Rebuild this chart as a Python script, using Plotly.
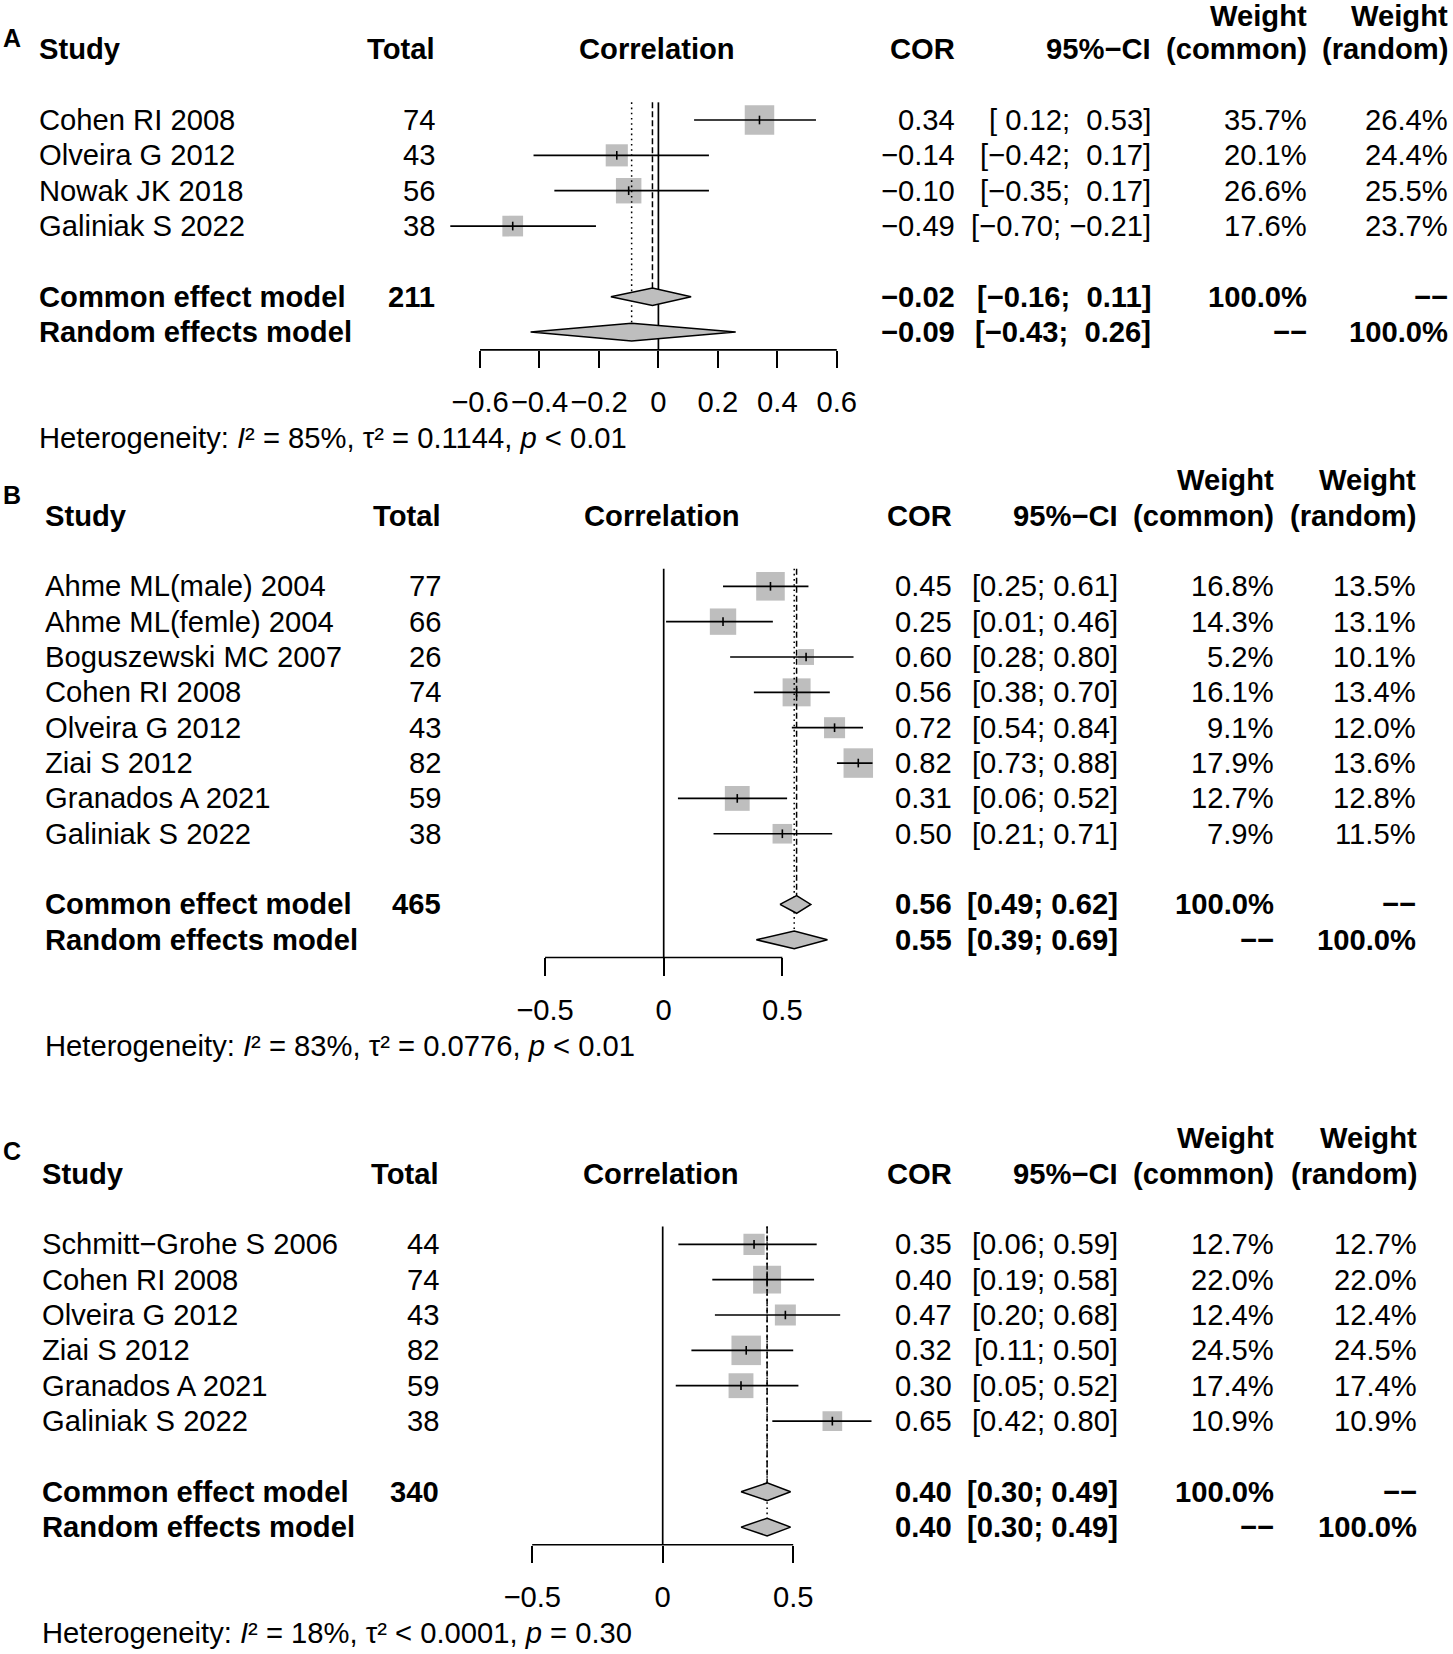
import math
import plotly.graph_objects as go

MINUS = "\u2212"
NB = "\u00a0"

# ---------------- data ----------------
# Panel A
studies_A = ["Cohen RI 2008", "Olveira G 2012", "Nowak JK 2018", "Galiniak S 2022"]
total_A = [74, 43, 56, 38]
cor_A = [0.34, -0.14, -0.10, -0.49]
lower_A = [0.12, -0.42, -0.35, -0.70]
upper_A = [0.53, 0.17, 0.17, -0.21]
wcommon_A = [35.7, 20.1, 26.6, 17.6]
wrandom_A = [26.4, 24.4, 25.5, 23.7]
pooled_n_A = 211
common_A = [-0.02, -0.16, 0.11]
random_A = [-0.09, -0.43, 0.26]
het_A = ["= 85%", "= 0.1144", "&lt; 0.01"]
ticks_A = [-0.6, -0.4, -0.2, 0, 0.2, 0.4, 0.6]

# Panel B
studies_B = ["Ahme ML(male) 2004", "Ahme ML(femle) 2004", "Boguszewski MC 2007",
             "Cohen RI 2008", "Olveira G 2012", "Ziai S 2012", "Granados A 2021",
             "Galiniak S 2022"]
total_B = [77, 66, 26, 74, 43, 82, 59, 38]
cor_B = [0.45, 0.25, 0.60, 0.56, 0.72, 0.82, 0.31, 0.50]
lower_B = [0.25, 0.01, 0.28, 0.38, 0.54, 0.73, 0.06, 0.21]
upper_B = [0.61, 0.46, 0.80, 0.70, 0.84, 0.88, 0.52, 0.71]
wcommon_B = [16.8, 14.3, 5.2, 16.1, 9.1, 17.9, 12.7, 7.9]
wrandom_B = [13.5, 13.1, 10.1, 13.4, 12.0, 13.6, 12.8, 11.5]
pooled_n_B = 465
common_B = [0.56, 0.49, 0.62]
random_B = [0.55, 0.39, 0.69]
het_B = ["= 83%", "= 0.0776", "&lt; 0.01"]
ticks_B = [-0.5, 0, 0.5]

# Panel C
studies_C = ["Schmitt\u2212Grohe S 2006", "Cohen RI 2008", "Olveira G 2012",
             "Ziai S 2012", "Granados A 2021", "Galiniak S 2022"]
total_C = [44, 74, 43, 82, 59, 38]
cor_C = [0.35, 0.40, 0.47, 0.32, 0.30, 0.65]
lower_C = [0.06, 0.19, 0.20, 0.11, 0.05, 0.42]
upper_C = [0.59, 0.58, 0.68, 0.50, 0.52, 0.80]
wcommon_C = [12.7, 22.0, 12.4, 24.5, 17.4, 10.9]
wrandom_C = [12.7, 22.0, 12.4, 24.5, 17.4, 10.9]
pooled_n_C = 340
common_C = [0.40, 0.30, 0.49]
random_C = [0.40, 0.30, 0.49]
het_C = ["= 18%", "&lt; 0.0001", "= 0.30"]
ticks_C = [-0.5, 0, 0.5]

# ---------------- layout / style ----------------
W, H = 1453, 1654
FONT = "Liberation Sans, Arial, Helvetica, sans-serif"
FS = 29.2
PITCH = 35.35
GRAY = "#BEBEBE"
MAXBOX = 29.5
PAD_L = -2.0   # compensation for annotation inner padding (left-anchored)
PAD_R = 3.0    # compensation for annotation inner padding (right-anchored)

panels = [
    dict(label="A", studies=studies_A, total=total_A, cor=cor_A, lo=lower_A, hi=upper_A,
         wc=wcommon_A, wr=wrandom_A, n=pooled_n_A, common=common_A, random=random_A,
         het=het_A, ticks=ticks_A,
         y1=120.0, zero_px=658.4, ppu=297.3, xr=(-0.8, 0.8), top_nudge=2.0,
         lab_xy=(1, 38), study_x=39, total_x=434, corr_x=657, cor_x=954, ci_x=1150,
         wc_x=1306, wr_x=1447),
    dict(label="B", studies=studies_B, total=total_B, cor=cor_B, lo=lower_B, hi=upper_B,
         wc=wcommon_B, wr=wrandom_B, n=pooled_n_B, common=common_B, random=random_B,
         het=het_B, ticks=ticks_B,
         y1=586.3, zero_px=663.7, ppu=237.3, xr=(-0.8, 1.0), top_nudge=0.0,
         lab_xy=(1, 495), study_x=45, total_x=439.5, corr_x=662, cor_x=950.6, ci_x=1117,
         wc_x=1272.5, wr_x=1414.5),
    dict(label="C", studies=studies_C, total=total_C, cor=cor_C, lo=lower_C, hi=upper_C,
         wc=wcommon_C, wr=wrandom_C, n=pooled_n_C, common=common_C, random=random_C,
         het=het_C, ticks=ticks_C,
         y1=1244.3, zero_px=662.7, ppu=261.0, xr=(-0.8, 1.0), top_nudge=0.0,
         lab_xy=(1, 1151), study_x=41.7, total_x=438, corr_x=661, cor_x=950.6, ci_x=1117,
         wc_x=1273.3, wr_x=1416),
]


def num(v, pad=False):
    s = f"{abs(v):.2f}"
    if v < 0:
        return MINUS + s
    return (NB + s) if pad else s


def tick_label(v):
    if v == 0:
        return "0"
    s = f"{abs(v):.1f}"
    return (MINUS + s) if v < 0 else s


def ital(t):
    return f"<span style='font-style:italic;font-size:{FS}px'>{t}</span>"


fig = go.Figure()
annotations = []
layout_axes = {}


def ann(x_px, y, yref, text, xanchor, size=FS, bold=False):
    if bold:
        text = "<b>" + text + "</b>"
    if xanchor == "left":
        x_px += PAD_L
    elif xanchor == "right":
        x_px += PAD_R
    annotations.append(dict(x=x_px / W, xref="paper", y=y, yref=yref, text=text,
                            xanchor=xanchor, yanchor="middle", showarrow=False,
                            font=dict(family=FONT, size=size, color="black")))


for i, P in enumerate(panels):
    idx = "" if i == 0 else str(i + 1)
    xa, ya = "x" + idx, "y" + idx
    k = len(P["studies"])
    rows = list(range(1, k + 1))
    r_common, r_random = k + 2, k + 3
    r_axis = k + 3.5

    # y axis (row units, reversed)
    y1, p = P["y1"], PITCH
    r_top = max(-2.5, 1 - y1 / p)
    r_bot = k + 6.5
    px_top = y1 + (r_top - 1) * p
    px_bot = min(H, y1 + (r_bot - 1) * p)
    r_bot = 1 + (px_bot - y1) / p
    layout_axes["yaxis" + idx] = dict(domain=[1 - px_bot / H, 1 - px_top / H],
                                      range=[r_bot, r_top], visible=False,
                                      fixedrange=True)
    # x axis
    x0 = P["zero_px"] + P["xr"][0] * P["ppu"]
    x1 = P["zero_px"] + P["xr"][1] * P["ppu"]
    axis_px = y1 + (r_axis - 1) * p
    layout_axes["xaxis" + idx] = dict(
        domain=[x0 / W, x1 / W], range=list(P["xr"]), anchor="free",
        position=1 - axis_px / H, showline=False, showgrid=False, zeroline=False,
        ticks="outside", ticklen=17.5, tickwidth=1.7, tickcolor="black",
        tickvals=P["ticks"], ticktext=[tick_label(v) for v in P["ticks"]],
        tickangle=0, tickfont=dict(family=FONT, size=FS, color="black"),
        ticklabelstandoff=9, fixedrange=True)

    wmax = max(P["wc"])
    sizes = [MAXBOX * math.sqrt(w / wmax) for w in P["wc"]]
    # squares
    fig.add_trace(go.Scatter(x=P["cor"], y=rows, xaxis=xa, yaxis=ya, mode="markers",
                             marker=dict(symbol="square", size=sizes, color=GRAY,
                                         opacity=1, line=dict(width=0)),
                             hoverinfo="skip", showlegend=False))
    # zero line
    fig.add_trace(go.Scatter(x=[0, 0], y=[0.5, r_axis], xaxis=xa, yaxis=ya, mode="lines",
                             line=dict(color="black", width=1.7), hoverinfo="skip",
                             showlegend=False))
    # common / random reference lines
    fig.add_trace(go.Scatter(x=[P["common"][0]] * 2, y=[0.5, r_common - 0.25], xaxis=xa,
                             yaxis=ya, mode="lines",
                             line=dict(color="black", width=1.5, dash="6px,3px"),
                             hoverinfo="skip", showlegend=False))
    fig.add_trace(go.Scatter(x=[P["random"][0]] * 2, y=[0.5, r_random - 0.25], xaxis=xa,
                             yaxis=ya, mode="lines",
                             line=dict(color="black", width=1.5, dash="1.6px,3.6px"),
                             hoverinfo="skip", showlegend=False))
    # CI lines
    cx, cy = [], []
    for r, l, h in zip(rows, P["lo"], P["hi"]):
        cx += [l, h, None]
        cy += [r, r, None]
    fig.add_trace(go.Scatter(x=cx, y=cy, xaxis=xa, yaxis=ya, mode="lines",
                             line=dict(color="black", width=1.7), hoverinfo="skip",
                             showlegend=False))
    # point ticks
    fig.add_trace(go.Scatter(x=P["cor"], y=rows, xaxis=xa, yaxis=ya, mode="markers",
                             marker=dict(symbol="line-ns", size=6.2,
                                         line=dict(color="black", width=1.6)),
                             hoverinfo="skip", showlegend=False))
    # diamonds
    for est, r in ((P["common"], r_common), (P["random"], r_random)):
        e, l, h = est
        fig.add_trace(go.Scatter(x=[l, e, h, e, l], y=[r, r - 0.25, r, r + 0.25, r],
                                 xaxis=xa, yaxis=ya, mode="lines", fill="toself",
                                 fillcolor=GRAY, line=dict(color="black", width=1.5),
                                 hoverinfo="skip", showlegend=False))
    # x axis line
    fig.add_trace(go.Scatter(x=[P["ticks"][0], P["ticks"][-1]], y=[r_axis, r_axis],
                             xaxis=xa, yaxis=ya, mode="lines",
                             line=dict(color="black", width=1.7), hoverinfo="skip",
                             showlegend=False))

    # ---- text columns ----
    lo_pad = any(v < 0 for v in P["lo"] + [P["common"][1], P["random"][1]])
    hi_pad = any(v < 0 for v in P["hi"] + [P["common"][2], P["random"][2]])

    def ci(l, h):
        return "[" + num(l, lo_pad) + ";" + NB + num(h, hi_pad) + "]"

    # panel label
    annotations.append(dict(x=P["lab_xy"][0] / W, xref="paper", y=1 - P["lab_xy"][1] / H,
                            yref="paper", text="<b>" + P["label"] + "</b>",
                            xanchor="left", yanchor="middle", showarrow=False,
                            font=dict(family=FONT, size=25, color="black")))
    # headers
    r_w = -2 + P["top_nudge"] / PITCH
    ann(P["study_x"], -1, ya, "Study", "left", bold=True)
    ann(P["total_x"], -1, ya, "Total", "right", bold=True)
    ann(P["corr_x"], -1, ya, "Correlation", "center", bold=True)
    ann(P["cor_x"], -1, ya, "COR", "right", bold=True)
    ann(P["ci_x"], -1, ya, "95%" + MINUS + "CI", "right", bold=True)
    ann(P["wc_x"], r_w, ya, "Weight", "right", bold=True)
    ann(P["wc_x"], -1, ya, "(common)", "right", bold=True)
    ann(P["wr_x"], r_w, ya, "Weight", "right", bold=True)
    ann(P["wr_x"], -1, ya, "(random)", "right", bold=True)
    # study rows
    for r, s, n, c, l, h, wc, wr in zip(rows, P["studies"], P["total"], P["cor"],
                                         P["lo"], P["hi"], P["wc"], P["wr"]):
        ann(P["study_x"], r, ya, s, "left")
        ann(P["total_x"], r, ya, str(n), "right")
        ann(P["cor_x"], r, ya, num(c), "right")
        ann(P["ci_x"], r, ya, ci(l, h), "right")
        ann(P["wc_x"], r, ya, f"{wc:.1f}%", "right")
        ann(P["wr_x"], r, ya, f"{wr:.1f}%", "right")
    # pooled rows
    dash2 = MINUS + MINUS
    ann(P["study_x"], r_common, ya, "Common effect model", "left", bold=True)
    ann(P["total_x"], r_common, ya, str(P["n"]), "right", bold=True)
    ann(P["cor_x"], r_common, ya, num(P["common"][0]), "right", bold=True)
    ann(P["ci_x"], r_common, ya, ci(P["common"][1], P["common"][2]), "right", bold=True)
    ann(P["wc_x"], r_common, ya, "100.0%", "right", bold=True)
    ann(P["wr_x"], r_common, ya, dash2, "right", bold=True)
    ann(P["study_x"], r_random, ya, "Random effects model", "left", bold=True)
    ann(P["cor_x"], r_random, ya, num(P["random"][0]), "right", bold=True)
    ann(P["ci_x"], r_random, ya, ci(P["random"][1], P["random"][2]), "right", bold=True)
    ann(P["wc_x"], r_random, ya, dash2, "right", bold=True)
    ann(P["wr_x"], r_random, ya, "100.0%", "right", bold=True)
    # heterogeneity
    i2, t2, pv = P["het"]
    het = ("Heterogeneity: " + ital("I") + "\u00b2 " + i2 + ", \u03c4\u00b2 " + t2
           + ", " + ital("p") + " " + pv)
    ann(P["study_x"], k + 6, ya, het, "left")

fig.update_layout(
    width=W, height=H, autosize=False,
    margin=dict(l=0, r=0, t=0, b=0, pad=0),
    paper_bgcolor="white", plot_bgcolor="rgba(0,0,0,0)",
    showlegend=False, annotations=annotations,
    font=dict(family=FONT, size=FS, color="black"),
    **layout_axes,
)

fig.write_html(
    "out.html",
    config={"displayModeBar": False},
    post_script="document.documentElement.style.margin='0';"
                "document.body.style.margin='0';"
                "document.body.style.overflow='hidden';",
)
